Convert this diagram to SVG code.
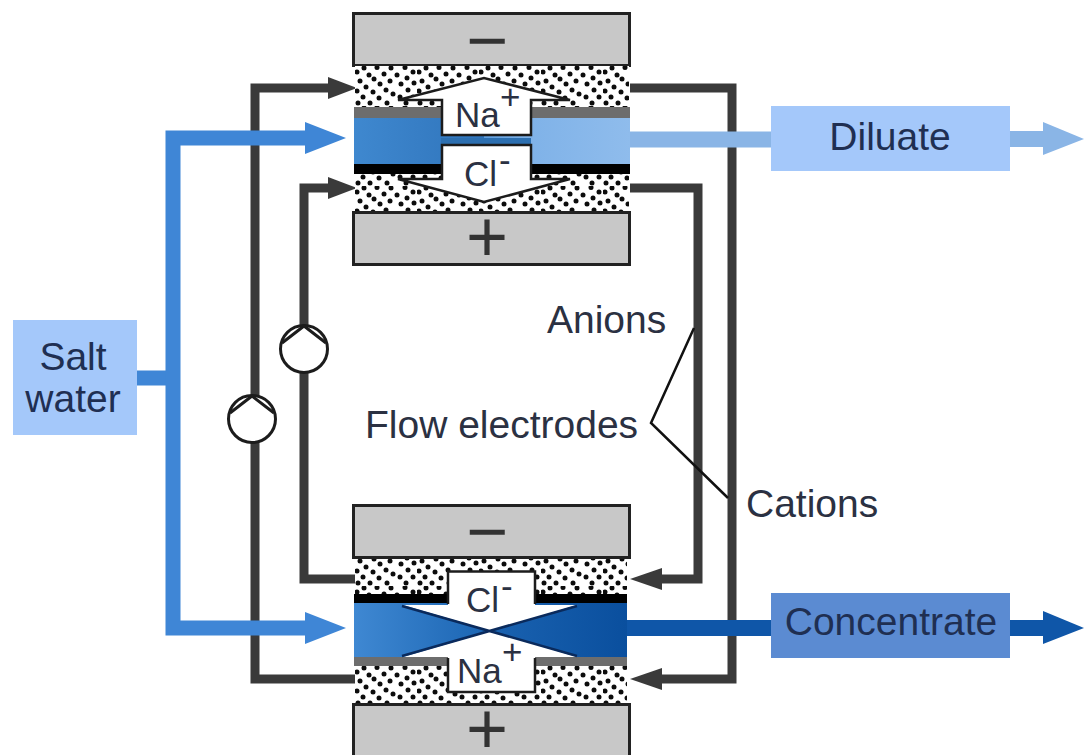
<svg xmlns="http://www.w3.org/2000/svg" width="1084" height="755" viewBox="0 0 1084 755">
<style>
text{font-family:"Liberation Sans",Arial,sans-serif;fill:#2b3142;font-size:39px}
.ionl{font-size:35px}
.el{fill:#c8c8c8;stroke:#222;stroke-width:3}
.sign{font-size:72px;fill:#333;text-anchor:middle}
.dark{fill:none;stroke:#3a3a3a;stroke-width:9}
.darkh{fill:#3a3a3a}
.sw{fill:none;stroke:#3f86d6;stroke-width:15}
.swh{fill:#3f86d6}
.ion{fill:#fff;stroke:#1c1c1c;stroke-width:2.5;stroke-linejoin:miter}
.pump{fill:#fff;stroke:#1c1c1c;stroke-width:3}
.pl{fill:none;stroke:#1c1c1c;stroke-width:3}
.box{text-anchor:middle;fill:#1f2f52}
</style>
<defs>
<pattern id="dots" width="62" height="40" patternUnits="userSpaceOnUse" x="355" y="66">
<g fill="#0c0c0c">
<circle cx="2" cy="6" r="2.500"/><circle cx="9" cy="2" r="2.500"/><circle cx="22" cy="1.500" r="2.500"/><circle cx="36" cy="2" r="2.500"/><circle cx="50" cy="1.500" r="2.500"/><circle cx="58" cy="6" r="2.500"/>
<circle cx="14" cy="9" r="2.500"/><circle cx="19" cy="13" r="2.500"/><circle cx="29" cy="8" r="2.500"/><circle cx="42" cy="9" r="2.500"/><circle cx="52" cy="12" r="2.500"/>
<circle cx="5" cy="15" r="2.500"/><circle cx="25" cy="18" r="2.500"/><circle cx="35" cy="15" r="2.500"/><circle cx="46" cy="18" r="2.500"/><circle cx="59" cy="17" r="2.500"/>
<circle cx="11" cy="21" r="2.500"/><circle cx="2" cy="25" r="2.500"/><circle cx="18" cy="26" r="2.500"/><circle cx="31" cy="24" r="2.500"/><circle cx="38" cy="28" r="2.500"/><circle cx="53" cy="24" r="2.500"/>
<circle cx="8" cy="31" r="2.500"/><circle cx="24" cy="32" r="2.500"/><circle cx="45" cy="31" r="2.500"/><circle cx="58" cy="31" r="2.500"/>
<circle cx="3" cy="37" r="2.500"/><circle cx="15" cy="37" r="2.500"/><circle cx="32" cy="37" r="2.500"/><circle cx="51" cy="37" r="2.500"/>
</g>
</pattern>
<linearGradient id="g1"><stop offset="0" stop-color="#3f88cf"/><stop offset="1" stop-color="#2f74bb"/></linearGradient>
<linearGradient id="g2"><stop offset="0" stop-color="#5f9ede"/><stop offset=".3" stop-color="#7fb2e8"/><stop offset="1" stop-color="#8fbcec"/></linearGradient>
<linearGradient id="g3"><stop offset="0" stop-color="#3f88d2"/><stop offset="1" stop-color="#1a64b2"/></linearGradient>
<linearGradient id="g4"><stop offset="0" stop-color="#1a62b0"/><stop offset="1" stop-color="#0a4f9e"/></linearGradient>
</defs>

<g id="connectors">
<path class="dark" d="M340 88H255V679H355"/>
<path class="dark" d="M630 88H732V679H650"/>
<path class="dark" d="M340 188H304V579H355"/>
<path class="dark" d="M630 188H698V579H650"/>
<polygon class="darkh" points="357,88 328,77 328,99"/>
<polygon class="darkh" points="357,188 328,177 328,199"/>
<polygon class="darkh" points="630,579 662,568 662,590"/>
<polygon class="darkh" points="630,679 662,668 662,690"/>
<path class="sw" d="M137 378H173"/>
<path class="sw" d="M305 138H173V628H305"/>
<polygon class="swh" points="346,138 305,122 305,154"/>
<polygon class="swh" points="346,628 305,612 305,644"/>
<path d="M620 139.500H772" fill="none" stroke="#8ab5e6" stroke-width="16"/>
<path d="M1010 139H1044" fill="none" stroke="#8ab5e6" stroke-width="16"/>
<polygon fill="#8ab5e6" points="1084,139 1043,122 1043,155"/>
<path d="M620 628H772" fill="none" stroke="#0f56a8" stroke-width="16"/>
<path d="M1010 628H1044" fill="none" stroke="#0f56a8" stroke-width="16"/>
<polygon fill="#0f56a8" points="1084,628 1043,611 1043,644"/>
<path d="M694 328L651 423L728 498" fill="none" stroke="#111" stroke-width="2.500"/>
</g>

<g id="cell-top">
<rect class="el" x="353.500" y="13.500" width="276" height="52"/>
<text class="sign" x="487" y="65">−</text>
<rect x="355" y="66" width="274" height="42" fill="#fff"/>
<rect x="355" y="66" width="274" height="42" fill="url(#dots)"/>
<rect x="355" y="174" width="274" height="38" fill="#fff"/>
<rect x="355" y="174" width="274" height="38" fill="url(#dots)"/>
<rect x="354" y="107" width="276" height="11" fill="#6d6d6d"/>
<rect x="354" y="118" width="130" height="46" fill="url(#g1)"/>
<rect x="484" y="118" width="146" height="46" fill="url(#g2)"/>
<rect x="354" y="164" width="276" height="10" fill="#000"/>
<rect x="441" y="138" width="90" height="6" fill="#2c6fb0"/>
<polygon class="ion" points="398,100 484,78 570,100 531,100 531,135 442,135 442,100"/>
<polygon class="ion" points="442,145 531,145 531,179 570,179 484,202 398,179 442,179"/>
<text class="ionl" x="455" y="127">Na<tspan x="500" y="109">+</tspan></text>
<text class="ionl" x="464" y="186">Cl<tspan x="499" y="172">-</tspan></text>
<rect class="el" x="353.500" y="212.500" width="276" height="52"/>
<text class="sign" x="487" y="261">+</text>
</g>

<g id="cell-bottom">
<rect class="el" x="353.500" y="505.500" width="276" height="52"/>
<text class="sign" x="487" y="556">−</text>
<rect x="355" y="559" width="272" height="36" fill="#fff"/>
<rect x="355" y="559" width="272" height="36" fill="url(#dots)"/>
<rect x="355" y="665" width="272" height="39" fill="#fff"/>
<rect x="355" y="665" width="272" height="39" fill="url(#dots)"/>
<rect x="354" y="594" width="273" height="9" fill="#000"/>
<rect x="354" y="603" width="137" height="54" fill="url(#g3)"/>
<rect x="491" y="603" width="136" height="54" fill="url(#g4)"/>
<rect x="354" y="657" width="273" height="9" fill="#6d6d6d"/>
<polygon fill="#fff" points="448,571 535,571 535,605 577,605 491,631 403,605 448,605"/>
<polygon fill="#fff" points="491,631 577,657 535,657 535,692 448,692 448,657 403,657"/>
<path d="M448 604V571.500H535V604M448 658V692H535V658" fill="none" stroke="#1c1c1c" stroke-width="2.500"/>
<path d="M402 606L577 656M402 656L577 606" fill="none" stroke="#0a2a5c" stroke-width="2.500"/>
<text class="ionl" x="466" y="612">Cl<tspan x="501" y="598">-</tspan></text>
<text class="ionl" x="457" y="683">Na<tspan x="502" y="664">+</tspan></text>
<rect class="el" x="353.500" y="704.500" width="276" height="60"/>
<text class="sign" x="487" y="753">+</text>
</g>

<g id="pump-1">
<circle class="pump" cx="304" cy="349" r="23.500"/>
<path class="pl" d="M282 343L304 326L326 343"/>
</g>
<g id="pump-2">
<circle class="pump" cx="252" cy="419" r="23.500"/>
<path class="pl" d="M230 413L252 396L274 413"/>
</g>

<g id="salt-water">
<rect x="13" y="320" width="124" height="115" fill="#a4c8fa"/>
<text class="box" x="73" y="370">Salt</text>
<text class="box" x="73" y="412">water</text>
</g>
<g id="diluate">
<rect x="771" y="106" width="239" height="65" fill="#a4c8fa"/>
<text class="box" x="890" y="150">Diluate</text>
</g>
<g id="concentrate">
<rect x="771" y="593" width="239" height="65" fill="#5b8bd2"/>
<text class="box" x="891" y="635">Concentrate</text>
</g>

<g id="labels">
<text x="547" y="333">Anions</text>
<text x="365" y="438">Flow electrodes</text>
<text x="746" y="517">Cations</text>
</g>
</svg>
